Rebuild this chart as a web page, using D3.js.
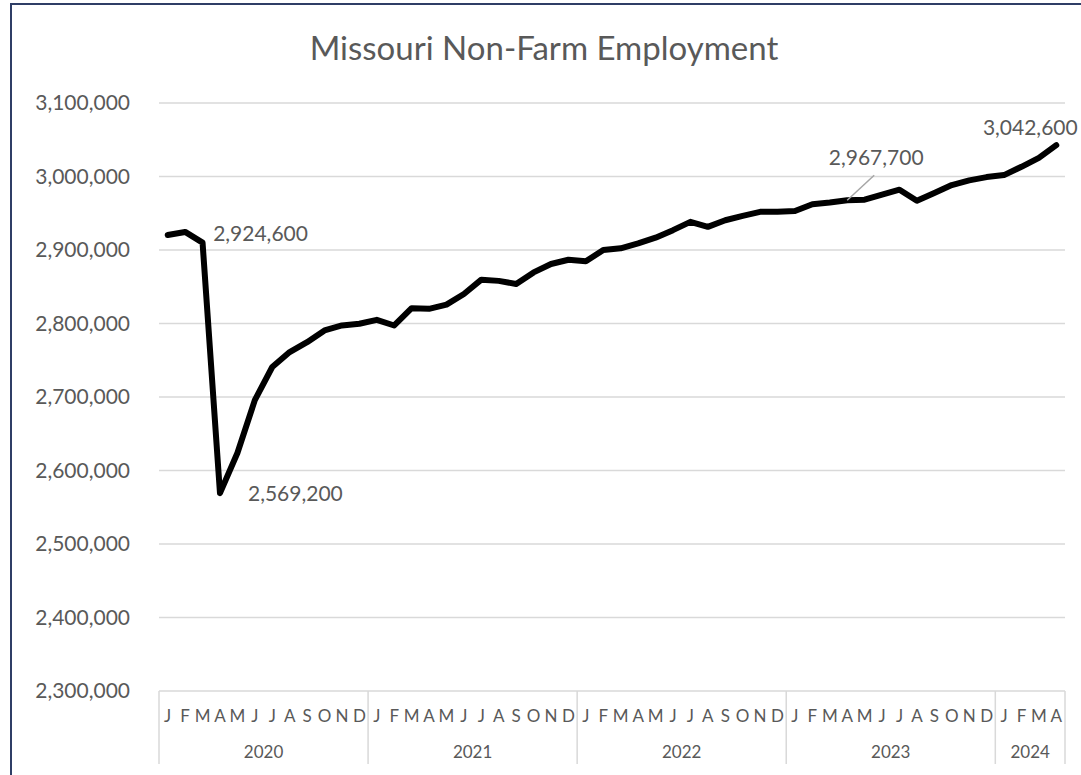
<!DOCTYPE html>
<html>
<head>
<meta charset="utf-8">
<script src="https://cdn.jsdelivr.net/npm/d3@7"></script>
<style>
body { margin:0; background:#fff; }
text { font-family: Lato, "Open Sans", sans-serif; fill:#595959; }
</style>
</head>
<body>
<div id="chart"></div>
<script>
// months Jan 2020 .. Apr 2024
var years = ["2020","2021","2022","2023","2024"]
var monthLetters = ["J","F","M","A","M","J","J","A","S","O","N","D"]
var monthsPerYear = [12,12,12,12,4]

var employment = [
  2920500, 2924600, 2910000, 2569200, 2623800, 2695700, 2740800, 2761100, 2774600, 2790500, 2797300, 2799600,
  2805000, 2797300, 2820800, 2820000, 2825700, 2840200, 2859600, 2858000, 2853800, 2869500, 2880900, 2886700,
  2884600, 2900000, 2902300, 2909000, 2916800, 2927000, 2938300, 2931500, 2940500, 2946500, 2951900, 2951900,
  2953000, 2962200, 2964500, 2967700, 2968500, 2975300, 2982000, 2967100, 2977500, 2988300, 2994700, 2999200,
  3001900, 3013200, 3025400, 3042600
]
var yTicks = [2300000,2400000,2500000,2600000,2700000,2800000,2900000,3000000,3100000]
// labelled points: index into employment
var callouts = [1, 3, 39, 51]

var W = 1081, H = 775
var margin = {top:103, right:16, bottom:84, left:159}

var svg = d3.select("#chart").append("svg")
    .attr("width", W)
    .attr("height", H)

// frame
svg.append("rect")
    .attr("x", 11).attr("y", 4)
    .attr("width", W + 20).attr("height", H + 20)
    .attr("fill", "none")
    .attr("stroke", "#2f3e66")
    .attr("stroke-width", 2)

svg.append("text")
    .attr("x", 544).attr("y", 60)
    .attr("text-anchor", "middle")
    .style("font-size", "33px")
    .text("Missouri Non-Farm Employment")

var cats = []
years.forEach(function(y, i) {
  for (var m = 0; m < monthsPerYear[i]; m++) cats.push(y + "-" + m)
})

var x = d3.scaleBand()
    .domain(cats)
    .range([margin.left, W - margin.right])

var y = d3.scaleLinear()
    .domain([2300000, 3100000])
    .range([H - margin.bottom, margin.top])

var fmt = d3.format(",")

// gridlines
svg.append("g")
    .selectAll("line")
    .data(yTicks.slice(1))
    .enter()
    .append("line")
        .attr("x1", margin.left)
        .attr("x2", W - margin.right)
        .attr("y1", d => y(d))
        .attr("y2", d => y(d))
        .attr("stroke", "#d9d9d9")
        .attr("stroke-width", 1.5)

// y labels
svg.append("g")
    .selectAll("text")
    .data(yTicks)
    .enter()
    .append("text")
        .attr("x", 130)
        .attr("y", d => y(d))
        .attr("dy", "0.35em")
        .attr("text-anchor", "end")
        .style("font-size", "21px")
        .text(d => fmt(d))

// category axis box
var axisTop = y(2300000)
var axisBottom = 764
svg.append("line")
    .attr("x1", margin.left).attr("x2", W - margin.right)
    .attr("y1", axisTop).attr("y2", axisTop)
    .attr("stroke", "#d9d9d9").attr("stroke-width", 1.5)

var starts = [0]
monthsPerYear.forEach(function(n, i) { starts.push(starts[i] + n) })

svg.append("g")
    .selectAll("line")
    .data(starts)
    .enter()
    .append("line")
        .attr("x1", d => d < cats.length ? x(cats[d]) : x.range()[1])
        .attr("x2", d => d < cats.length ? x(cats[d]) : x.range()[1])
        .attr("y1", axisTop)
        .attr("y2", axisBottom)
        .attr("stroke", "#d9d9d9")
        .attr("stroke-width", 1.5)

svg.append("g")
    .selectAll("text")
    .data(cats)
    .enter()
    .append("text")
        .attr("x", d => x(d) + x.bandwidth() / 2)
        .attr("y", 716)
        .attr("dy", "0.35em")
        .attr("text-anchor", "middle")
        .style("font-size", "17px")
        .text(d => monthLetters[+d.split("-")[1]])

svg.append("g")
    .selectAll("text")
    .data(years)
    .enter()
    .append("text")
        .attr("x", (d, i) => (x(cats[starts[i]]) + x(cats[starts[i + 1] - 1]) + x.bandwidth()) / 2)
        .attr("y", 752)
        .attr("dy", "0.35em")
        .attr("text-anchor", "middle")
        .style("font-size", "17px")
        .text(d => d)

// line
var line = d3.line()
    .x((d, i) => x(cats[i]) + x.bandwidth() / 2)
    .y(d => y(d))

svg.append("path")
    .datum(employment)
    .attr("d", line)
    .attr("fill", "none")
    .attr("stroke", "#000")
    .attr("stroke-width", 6)
    .attr("stroke-linejoin", "round")
    .attr("stroke-linecap", "round")

// data labels
var px = i => x(cats[i]) + x.bandwidth() / 2
var off = {1:[28, 2, "start"], 3:[28, 1, "start"], 39:[29, -43, "middle"], 51:[-26, -18, "middle"]}

svg.append("line")
    .attr("x1", px(39)).attr("y1", y(employment[39]))
    .attr("x2", px(39) + 27).attr("y2", y(employment[39]) - 25)
    .attr("stroke", "#a6a6a6").attr("stroke-width", 1.5)

svg.append("g")
    .selectAll("text")
    .data(callouts)
    .enter()
    .append("text")
        .attr("x", d => px(d) + off[d][0])
        .attr("y", d => y(employment[d]) + off[d][1])
        .attr("dy", "0.35em")
        .attr("text-anchor", d => off[d][2])
        .style("font-size", "21px")
        .text(d => fmt(employment[d]))
</script>
</body>
</html>
